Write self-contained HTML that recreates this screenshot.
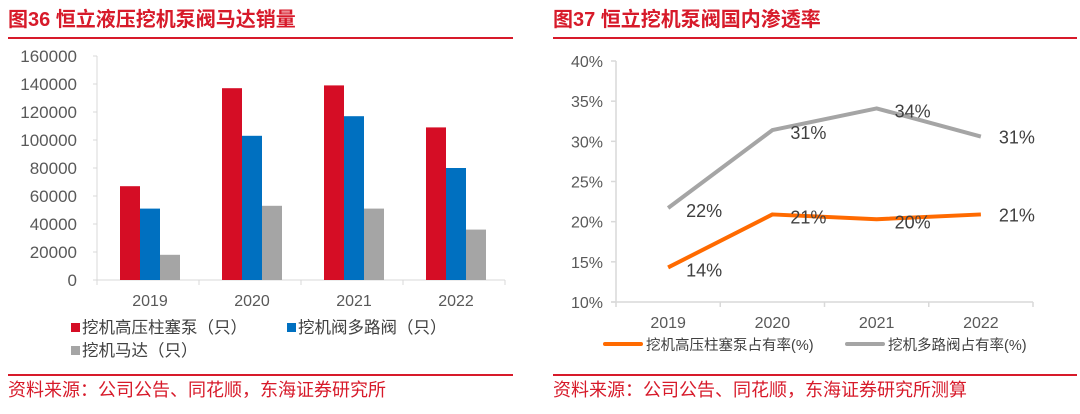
<!DOCTYPE html>
<html><head><meta charset="utf-8"><style>
body{margin:0;width:1080px;height:409px;background:#fff;overflow:hidden;font-family:"Liberation Sans","Noto Sans CJK SC",sans-serif;}
svg text{font-family:"Liberation Sans","Noto Sans CJK SC",sans-serif;}
</style></head><body>
<svg id="s" width="1080" height="409">
<text x="8" y="26" font-size="20" font-weight="bold" fill="#d71a2a">图36  恒立液压挖机泵阀马达销量</text>
<rect x="8" y="37" width="505" height="2" fill="#d71a2a"/>
<text x="553" y="26" font-size="20" font-weight="bold" fill="#d71a2a">图37  恒立挖机泵阀国内渗透率</text>
<rect x="553" y="37" width="524" height="2" fill="#d71a2a"/>
<rect x="8" y="374" width="505" height="2" fill="#d71a2a"/>
<rect x="553" y="374" width="524" height="2" fill="#d71a2a"/>
<text x="8" y="396" font-size="18" fill="#d71a2a">资料来源：公司公告、同花顺，东海证券研究所</text>
<text x="553" y="396" font-size="18" fill="#d71a2a">资料来源：公司公告、同花顺，东海证券研究所测算</text>
<g id="left"></g><g id="right"></g>
<rect x="71" y="323" width="9" height="9" fill="#d50d25"/>
<text x="82" y="333" font-size="16.5" fill="#404040">挖机高压柱塞泵（只）</text>
<rect x="287" y="323" width="9" height="9" fill="#0070c0"/>
<text x="298" y="333" font-size="16.5" fill="#404040">挖机阀多路阀（只）</text>
<rect x="71" y="346" width="9" height="9" fill="#a5a5a5"/>
<text x="82" y="356" font-size="16.5" fill="#404040">挖机马达（只）</text>
<rect x="603" y="342" width="40" height="4" rx="2" fill="#ff6a00"/>
<text x="646" y="350" font-size="14.5" fill="#404040">挖机高压柱塞泵占有率(%)</text>
<rect x="845" y="342" width="40" height="4" rx="2" fill="#a5a5a5"/>
<text x="888" y="350" font-size="14.5" fill="#404040">挖机多路阀占有率(%)</text>
</svg>
<script>
const years=["2019","2020","2021","2022"];
const pumpSales=[67000,137000,139000,109000];
const valveSales=[51000,103000,117000,80000];
const motorSales=[18000,53000,51000,36000];
const leftTicks=[0,20000,40000,60000,80000,100000,120000,140000,160000];
const pumpRate=[14.3,20.9,20.3,20.9];
const valveRate=[21.7,31.4,34.1,30.6];
const pumpRateLabels=["14%","21%","20%","21%"];
const valveRateLabels=["22%","31%","34%","31%"];
const rightTicks=[10,15,20,25,30,35,40];
const NS="http://www.w3.org/2000/svg";
function mk(p,t,a){const e=document.createElementNS(NS,t);for(const k in a)e.setAttribute(k,a[k]);p.appendChild(e);return e;}
const L=document.getElementById('left');
const lx0=97,lx1=505,ly0=280,ly1=56;
const ly=v=>ly0-(v/160000)*(ly0-ly1);
const cw=(lx1-lx0)/years.length;
let e=mk(L,'line',{x1:lx0,y1:ly1,x2:lx0,y2:ly0,stroke:'#d9d9d9'});


e=mk(L,'line',{x1:lx0-4,y1:ly0,x2:lx1,y2:ly0,stroke:'#d9d9d9'});


leftTicks.forEach(v=>{
 mk(L,'line',{x1:lx0-4,y1:ly(v),x2:lx0,y2:ly(v),stroke:'#d9d9d9'});
 const t=mk(L,'text',{x:77,y:ly(v)+6,'font-size':17,fill:'#595959','text-anchor':'end'});t.textContent=v;
 
 
});
for(let i=0;i<=years.length;i++)mk(L,'line',{x1:lx0+i*cw,y1:ly0,x2:lx0+i*cw,y2:ly0+5,stroke:'#d9d9d9'});
const series=[[pumpSales,'#d50d25','bar-pump'],[valveSales,'#0070c0','bar-valve'],[motorSales,'#a5a5a5','bar-motor']];
years.forEach((y,i)=>{
 const c=lx0+cw*(i+0.5)+2;
 series.forEach((s,j)=>{
  const b=mk(L,'rect',{x:c-30+j*20,y:ly(s[0][i]),width:20,height:ly0-ly(s[0][i]),fill:s[1]});
  
  
 });
 const t=mk(L,'text',{x:c,y:306,'font-size':16,fill:'#595959','text-anchor':'middle'});t.textContent=y;
 
 
});
const R=document.getElementById('right');
const rx0=616,rx1=1033,ry0=302,ry1=61;
const ry=v=>ry0-(v-10)/30*(ry0-ry1);
const rw=(rx1-rx0)/years.length;
const rx=i=>rx0+rw*(i+0.5);
e=mk(R,'line',{x1:rx0,y1:ry1,x2:rx0,y2:ry0,stroke:'#d9d9d9','stroke-width':1.5});


e=mk(R,'line',{x1:rx0-5,y1:ry0,x2:rx1,y2:ry0,stroke:'#d9d9d9','stroke-width':1.5});


rightTicks.forEach(v=>{
 mk(R,'line',{x1:rx0-5,y1:ry(v),x2:rx0,y2:ry(v),stroke:'#d9d9d9','stroke-width':1.5});
 const t=mk(R,'text',{x:603,y:ry(v)+6,'font-size':16,fill:'#595959','text-anchor':'end'});t.textContent=v+'%';
 
 
});
for(let i=0;i<=years.length;i++)mk(R,'line',{x1:rx0+i*rw,y1:ry0,x2:rx0+i*rw,y2:ry0+5,stroke:'#d9d9d9','stroke-width':1.5});
years.forEach((y,i)=>{const t=mk(R,'text',{x:rx(i),y:328,'font-size':16,fill:'#595959','text-anchor':'middle'});t.textContent=y;
 
 });
[[valveRate,'#a5a5a5','line-valve-rate',valveRateLabels],[pumpRate,'#ff6a00','line-pump-rate',pumpRateLabels]].forEach(s=>{
 const p=mk(R,'polyline',{points:s[0].map((v,i)=>rx(i)+','+ry(v)).join(' '),fill:'none',stroke:s[1],'stroke-width':4,'stroke-linejoin':'round'});
 
 
 s[0].forEach((v,i)=>{const t=mk(R,'text',{x:rx(i)+36,y:ry(v)+(i==3?7:9),'font-size':18,fill:'#404040','text-anchor':'middle'});t.textContent=s[3][i];
  
  });
});
</script>
</body></html>
